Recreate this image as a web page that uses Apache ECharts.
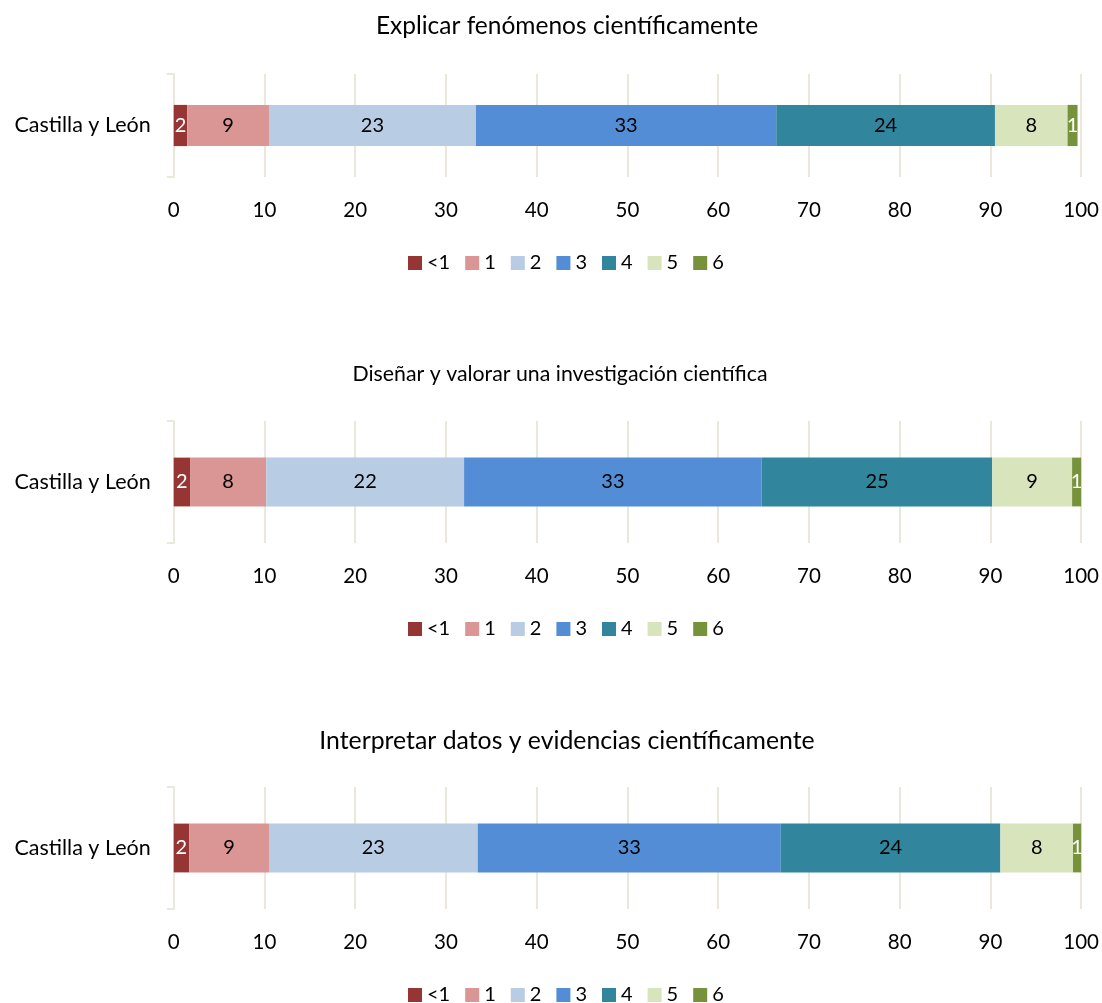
<!DOCTYPE html>
<html><head><meta charset="utf-8">
<script src="https://cdn.jsdelivr.net/npm/echarts@6/dist/echarts.min.js"></script>
<style>html,body{margin:0;padding:0;background:#fff}#c{width:1102px;height:1003px}</style>
</head><body><div id="c"></div>
<script>
const titles = ["Explicar fenómenos científicamente", "Diseñar y valorar una investigación científica", "Interpretar datos y evidencias científicamente"];
const region = ["Castilla y León"];
const levels = ["<1", "1", "2", "3", "4", "5", "6"];
const colors = ["#963634", "#da9694", "#b8cce4", "#538dd5", "#31859c", "#d8e4bc", "#76933c"];
const panel1 = [1.5, 9.0, 22.8, 33.1, 24.1, 8.0, 1.1];
const panel2 = [1.8, 8.4, 21.8, 32.8, 25.4, 8.8, 1.0];
const panel3 = [1.7, 8.8, 23.0, 33.4, 24.2, 8.0, 0.9];
const xTicks = [0, 10, 20, 30, 40, 50, 60, 70, 80, 90, 100];

const panels = [panel1, panel2, panel3];
const FONT = "Lato";
const gridTops = [74, 421, 787];
const gridH = [103, 122, 122];
const titleCenters = [27, 375, 742];
const titleX = [562, 555, 562];
const titleSizes = [24.5, 21.3, 24.8];
const gridColor = "#ece7db";

const option = {
  animation: false,
  textStyle: {fontFamily: FONT, color: "#000"},
  title: titles.map((t, i) => ({
    text: t, left: titleX[i], textAlign: 'center', top: titleCenters[i] - titleSizes[i] / 2 - 6,
    textStyle: {fontFamily: FONT, fontSize: titleSizes[i], fontWeight: 'normal', color: '#000'}
  })),
  legend: gridTops.map((gt, i) => ({
    data: levels, top: gt + gridH[i] + 71, left: 403,
    itemWidth: 14, itemHeight: 14, itemGap: 15, icon: 'rect',
    textStyle: {fontFamily: FONT, fontSize: 20, color: '#000'}
  })),
  grid: gridTops.map((gt, i) => ({left: 173.7, right: 20.3, top: gt, height: gridH[i], containLabel: false})),
  xAxis: gridTops.map((_, i) => ({
    type: 'value', gridIndex: i, min: 0, max: 100, interval: 10,
    axisLine: {show: false}, axisTick: {show: false},
    splitLine: {lineStyle: {color: gridColor, width: 2}},
    axisLabel: {fontFamily: FONT, fontSize: 20.5, color: '#000', margin: 23,
      formatter: v => xTicks.includes(v) ? String(v) : ''}
  })),
  yAxis: gridTops.map((_, i) => ({
    type: 'category', gridIndex: i, data: region,
    axisLine: {lineStyle: {color: gridColor, width: 2}},
    axisTick: {show: true, length: 7, lineStyle: {color: gridColor, width: 2}},
    axisLabel: {fontFamily: FONT, fontSize: 21.5, color: '#000', margin: 23}
  })),
  series: []
};

panels.forEach((vals, p) => {
  levels.forEach((lv, k) => {
    option.series.push({
      name: lv, type: 'bar', stack: 's' + p, xAxisIndex: p, yAxisIndex: p,
      barWidth: '40%',
      data: [vals[k]],
      itemStyle: {color: colors[k]},
      label: {
        show: true, position: 'inside', fontFamily: FONT, fontSize: 20,
        color: (k === 0 || k === 6) ? '#fff' : '#000',
        formatter: d => String(Math.round(d.value))
      }
    });
  });
});

const chart = echarts.init(document.getElementById('c'));
chart.setOption(option);
</script></body></html>
